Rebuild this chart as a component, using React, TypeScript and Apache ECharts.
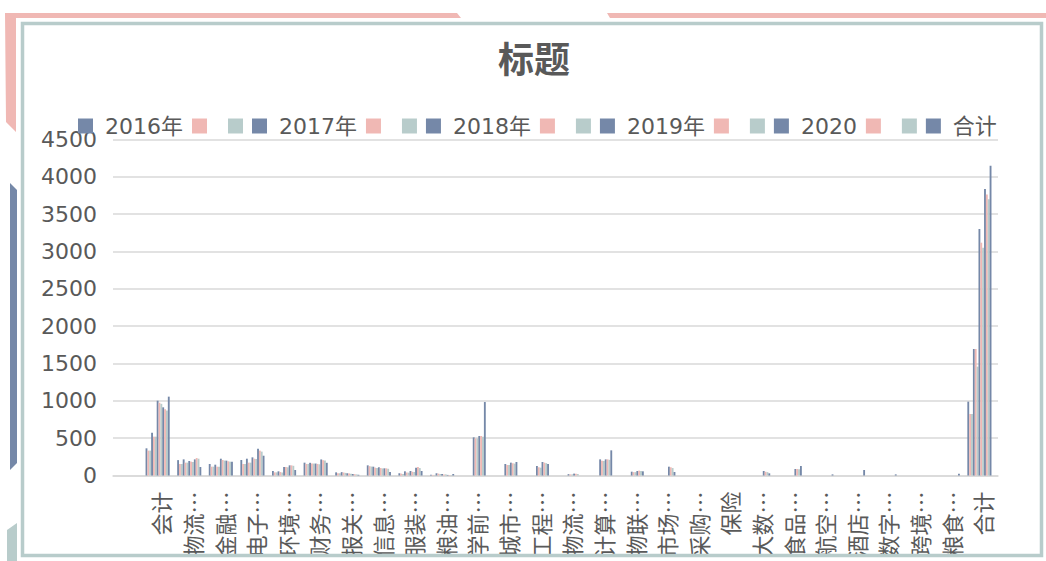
import React, { useEffect, useRef } from "react";
import * as echarts from "echarts";

const categories = ["", "会计", "物流…", "金融…", "电子…", "环境…", "财务…", "报关…", "信息…", "服装…", "粮油…", "学前…", "城市…", "工程…", "物流…", "计算…", "物联…", "市场…", "采购…", "保险", "大数…", "食品…", "航空…", "酒店…", "数字…", "跨境…", "粮食…", "合计"];

const N = null;
const b2016 = [N, 364, 206, 154, 208, 60, 172, 42, 136, 30, 10, N, N, N, N, N, N, N, N, N, N, N, N, N, N, N, N, 989];
const p2016 = [N, 333, 154, 118, 154, 42, 155, 30, 125, 25, 8, N, N, N, N, N, N, N, N, N, N, N, N, N, N, N, N, 824];
const g2016 = [N, 333, 154, 118, 154, 42, 155, 30, 120, 20, 8, N, N, N, N, N, N, N, N, N, N, N, N, N, N, N, N, 824];
const b2017 = [N, 574, 216, 145, 225, 56, 170, 45, 118, 56, 30, N, N, N, N, N, N, N, N, N, N, N, N, N, N, N, N, 1694];
const p2017 = [N, 520, 172, 118, 172, 47, 160, 40, 105, 40, 25, N, N, N, N, N, N, N, N, N, N, N, N, N, N, N, N, 1694];
const g2017 = [N, 520, 172, 118, 172, 40, 160, 35, 100, 38, 20, N, N, N, N, N, N, N, N, N, N, N, N, N, N, N, N, 1458];
const b2018 = [N, 1002, 194, 225, 243, 114, 160, 30, 110, 60, 20, 511, 154, 127, 18, 216, 51, N, N, N, N, N, N, N, N, N, N, 3301];
const p2018 = [N, 975, 185, 208, 225, 114, 155, 28, 100, 50, 15, 497, 141, 110, 15, 199, 45, N, N, N, N, N, N, N, N, N, N, 3118];
const g2018 = [N, 960, 180, 200, 220, 110, 150, 25, 95, 47, 15, 497, 141, 105, 15, 195, 45, N, N, N, N, N, N, N, N, N, N, 3050];
const b2019 = [N, 913, 216, 199, 359, 136, 215, 20, 96, 105, 8, 529, 172, 181, 25, 216, 60, 118, N, N, 60, 87, N, N, N, N, N, 3837];
const p2019 = [N, 886, 234, 190, 333, 136, 205, 18, 96, 114, 6, 529, 165, 172, 22, 216, 65, 110, N, N, 50, 87, N, N, N, N, N, 3765];
const g2019 = [N, 870, 225, 185, 320, 130, 200, 15, 90, 100, 6, 520, 159, 165, 20, 210, 60, 100, N, N, 45, 85, N, N, N, N, N, 3700];
const b2020 = [N, 1056, 114, 185, 265, 74, 170, 10, 47, 60, 20, 984, 181, 154, N, 337, 56, 47, N, N, 29, 127, 15, 74, 15, N, 25, 4149];
const p2020 = [N, N, N, N, N, N, N, N, N, N, N, N, N, N, N, N, N, N, N, N, N, N, N, N, N, N, N, N];
const g2020 = [N, N, N, N, N, N, N, N, N, N, N, N, N, N, N, N, N, N, N, N, N, N, N, N, N, N, N, N];
const total = [N, N, N, N, N, N, N, N, N, N, N, N, N, N, N, N, N, N, N, N, N, N, N, N, N, N, N, N];

const seriesNames = ["2016年", "_p2016", "_g2016", "2017年", "_p2017", "_g2017", "2018年", "_p2018", "_g2018", "2019年", "_p2019", "_g2019", "2020", "_p2020", "_g2020", "合计"];
const seriesData = [b2016, p2016, g2016, b2017, p2017, g2017, b2018, p2018, g2018, b2019, p2019, g2019, b2020, p2020, g2020, total];
const yTicks = { min: 0, max: 4500, interval: 500 };

const BLUE = "#7588a8";
const PINK = "#f0b8b4";
const TEAL = "#b8cccb";
const TEXT = "#595959";
const LATIN = "'DejaVu Sans', 'Noto Sans CJK SC', sans-serif";
const CJK = "'Noto Sans CJK SC', sans-serif";

export default function App() {
  const ref = useRef<HTMLDivElement>(null);
  useEffect(() => {
    const chart = echarts.init(ref.current!, undefined, { renderer: "svg" });
    const colorFor = (i: number) => (i === 15 ? BLUE : [BLUE, PINK, TEAL][i % 3]);
    chart.setOption({
      animation: false,
      backgroundColor: "#ffffff",
      title: {
        text: "标题",
        left: 493,
        top: 34,
        textStyle: { fontSize: 36, fontWeight: "bold", color: TEXT, fontFamily: CJK },
      },
      legend: {
        left: 73,
        top: 110,
        icon: "rect",
        itemWidth: 15,
        itemHeight: 15,
        itemGap: 9,
        data: seriesNames,
        formatter: (name: string) => (name.startsWith("_p") ? " " : name.startsWith("_g") ? "" : " " + name),
        textStyle: { fontSize: 22, color: TEXT, fontFamily: LATIN },
        selectedMode: false,
      },
      grid: { left: 113, right: 48, top: 139.5, bottom: 85.5, containLabel: false },
      xAxis: {
        type: "category",
        data: categories,
        axisLine: { lineStyle: { color: "#d9d9d9", width: 1.5 } },
        axisTick: { show: false },
        axisLabel: { interval: 0, rotate: 90, margin: 16, fontSize: 22, color: TEXT, fontFamily: CJK },
      },
      yAxis: {
        type: "value",
        min: yTicks.min,
        max: yTicks.max,
        interval: yTicks.interval,
        axisLine: { show: false },
        axisTick: { show: false },
        splitLine: { lineStyle: { color: "#d9d9d9", width: 1.5 } },
        axisLabel: { margin: 16, fontSize: 22, color: TEXT, fontFamily: LATIN, formatter: (v: number) => String(v) },
      },
      series: seriesNames.map((name, i) => ({
        name,
        type: "bar",
        data: seriesData[i],
        barGap: "0%",
        barCategoryGap: "6%",
        itemStyle: { color: colorFor(i) },
      })),
      graphic: [
        { type: "polygon", z: 100, shape: { points: [[5, 13], [457, 13], [461, 18], [16, 18], [16, 132], [6, 122]] }, style: { fill: PINK } },
        { type: "polygon", z: 100, shape: { points: [[607, 13], [1046, 13], [1046, 18], [610, 18]] }, style: { fill: PINK } },
        { type: "polygon", z: 100, shape: { points: [[10, 183], [17, 190], [17, 463], [10, 470]] }, style: { fill: BLUE } },
        { type: "polygon", z: 100, shape: { points: [[7, 530], [17, 523], [17, 561], [7, 561]] }, style: { fill: TEAL } },
        { type: "rect", z: 99, shape: { x: 20, y: 558, width: 1026, height: 3 }, style: { fill: "#ffffff" } },
        { type: "rect", z: 100, shape: { x: 22.5, y: 23.5, width: 1019, height: 532 }, style: { fill: "none", stroke: TEAL, lineWidth: 3.5 } },
      ],
    });
    return () => chart.dispose();
  }, []);
  return <div ref={ref} style={{ position: "fixed", left: 0, top: 0, width: 1046, height: 561 }} />;
}
